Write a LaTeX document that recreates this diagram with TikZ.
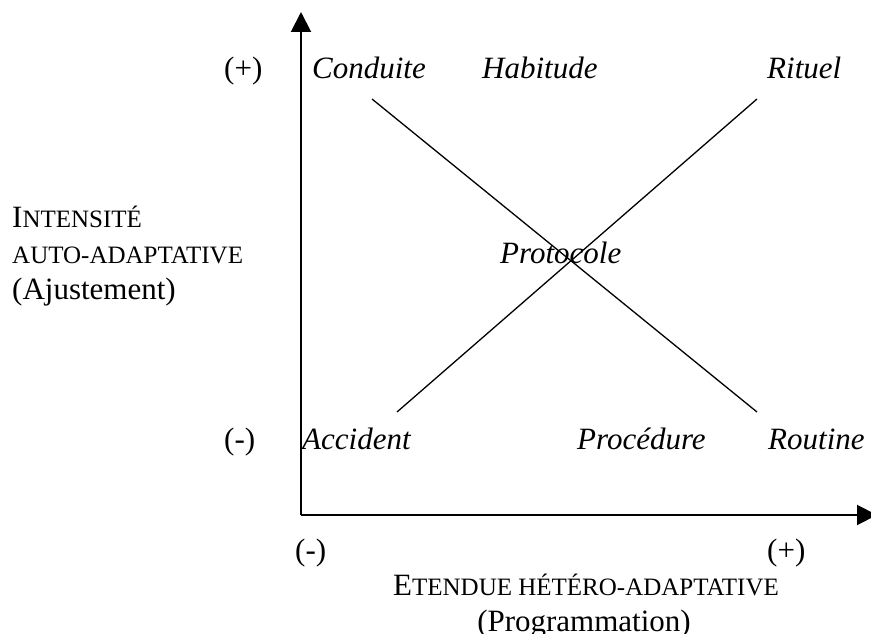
\documentclass[tikz,border=0pt]{standalone}
\usepackage{fontspec}
\setmainfont{Liberation Serif}
\usetikzlibrary{arrows.meta}
\newcommand{\bigf}{\fontsize{31}{36}\selectfont}
\newcommand{\smallc}[1]{{\fontsize{25}{30}\selectfont #1}}
\tikzset{
  lbl/.style={inner sep=0pt, anchor=base west, font=\bigf},
  itl/.style={lbl, font=\bigf\itshape},
  axis/.style={line width=2pt, -{Triangle[length=20pt,width=20pt]}},
  diag/.style={line width=1.3pt}
}
\begin{document}
\begin{tikzpicture}[x=1pt,y=-1pt]
\useasboundingbox (0,0) rectangle (871,634);
% coordinates
\coordinate (O) at (301,515);
\coordinate (ytip) at (301,12);
\coordinate (xtip) at (877,515);
\coordinate (a1) at (372,99);
\coordinate (a2) at (757,412);
\coordinate (b1) at (397,412);
\coordinate (b2) at (757,99);
% axes
\draw[axis] (O) -- (ytip);
\draw[axis] (O) -- (xtip);
% diagonals
\draw[diag] (a1) -- (a2);
\draw[diag] (b1) -- (b2);
% labels
\node[lbl] (yplus) at (224,78) {(+)};
\node[lbl] (yminus) at (224,449) {(-)};
\node[itl] (conduite) at (312,78) {Conduite};
\node[itl] (habitude) at (482,78) {Habitude};
\node[itl] (rituel) at (767,78) {Rituel};
\node[itl] (protocole) at (500,263) {Protocole};
\node[itl] (accident) at (302,449) {Accident};
\node[itl] (procedure) at (577,449) {Procédure};
\node[itl] (routine) at (768,449) {Routine};
\node[lbl] (xminus) at (295,560) {(-)};
\node[lbl] (xplus) at (767,560) {(+)};
\node[lbl, anchor=base] (etendue) at (586,595) {E\smallc{TENDUE HÉTÉRO-ADAPTATIVE}};
\node[lbl, anchor=base] (prog) at (584,631) {(Programmation)};
\node[lbl] (intens) at (12,227) {I\smallc{NTENSITÉ}};
\node[lbl] (auto) at (12,263) {\smallc{AUTO-ADAPTATIVE}};
\node[lbl] (ajust) at (12,299) {(Ajustement)};
\end{tikzpicture}
\end{document}
